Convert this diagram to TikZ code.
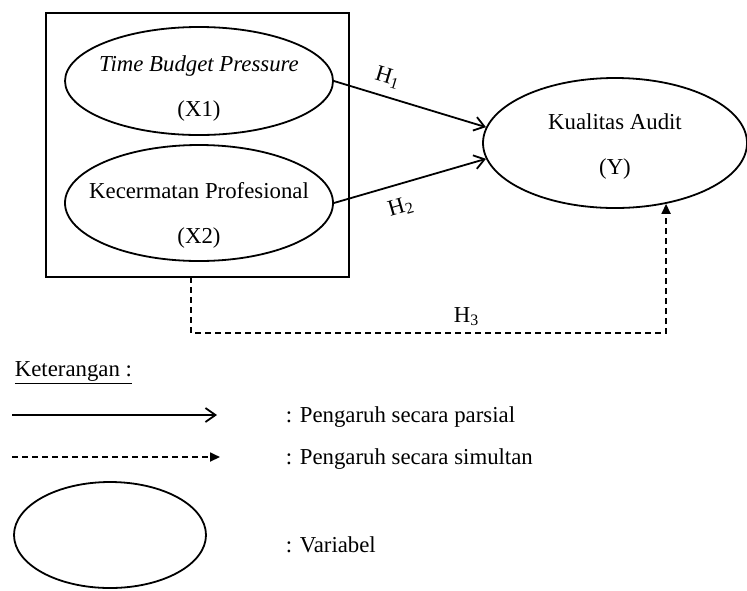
\documentclass[tikz,border=0pt]{standalone}
\usepackage{fontspec}
\setmainfont{Liberation Serif}
\usetikzlibrary{shapes.geometric,arrows.meta}
\begin{document}
\begin{tikzpicture}[x=0.5pt,y=-0.5pt,line width=0.9pt]
	\tikzstyle{every node}=[font=\fontsize{11.4}{22.5}\selectfont]
	\tikzstyle{variabel}=[ellipse,draw,inner sep=0pt]
	\tikzstyle{teks}=[align=center,inner sep=0pt]
	\tikzstyle{parsial}=[-{Straight Barb[length=5pt,width=7pt]}]
	\tikzstyle{simultan}=[dash pattern=on 3pt off 2pt,-{Triangle[length=5pt,width=4.5pt]}]
	\tikzstyle{ket}=[anchor=west,inner sep=0pt]
	\useasboundingbox (0,0) rectangle (747,590);
	
	% Variabel independen
	\node[draw,minimum width=151.5pt,minimum height=132pt] (box) at (197.5,145) {};
	\node[variabel,minimum width=134pt,minimum height=54pt] (x1) at (199,81) {};
	\node[teks] (x1t) at (199,89) {\textit{Time Budget Pressure}\\(X1)};
	\node[variabel,minimum width=134pt,minimum height=58pt] (x2) at (199,203) {};
	\node[teks] (x2t) at (199,215) {Kecermatan Profesional\\(X2)};
	
	% Variabel dependen
	\node[variabel,minimum width=132pt,minimum height=65pt] (y) at (615,143) {};
	\node[teks] (yt) at (615,147) {Kualitas Audit\\(Y)};
	
	% Pengaruh parsial
	\draw[parsial] (x1.east) -- node[above,sloped,pos=0.32,yshift=1pt] (h1) {H\textsubscript{1}} (y.173);
	\draw[parsial] (x2.east) -- node[below,sloped,pos=0.4,yshift=-3pt] (h2) {H\textsubscript{2}} (y.187);
	
	% Pengaruh simultan
	\coordinate (s1) at (191,277);
	\coordinate (s2) at (191,333);
	\draw[simultan] (s1) -- (s2) -| node[above,pos=0.29] (h3) {H\textsubscript{3}} (y.-50);
	
	% Keterangan
	\node[ket] (ket) at (14,373) {\underline{Keterangan :}};
	\coordinate (a1) at (12,415);
	\coordinate (a2) at (217,415);
	\draw[parsial] (a1) -- (a2);
	\node[ket] (t1) at (285,417) {: Pengaruh secara parsial};
	\coordinate (b1) at (12,457);
	\coordinate (b2) at (220,457);
	\draw[simultan] (b1) -- (b2);
	\node[ket] (t2) at (285,459) {: Pengaruh secara simultan};
	\node[variabel,minimum width=96pt,minimum height=53pt] (lv) at (110,535) {};
	\node[ket] (t3) at (285,545) {: Variabel};
\end{tikzpicture}
\end{document}
